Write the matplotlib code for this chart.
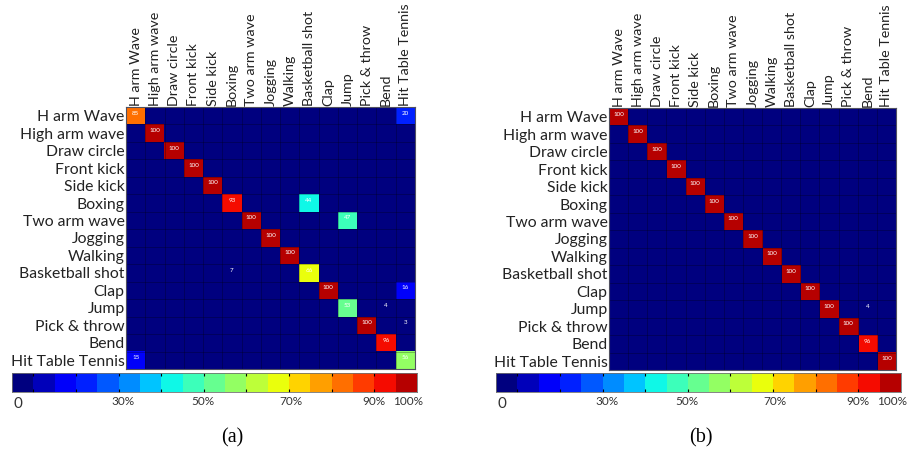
import numpy as np
import matplotlib
matplotlib.use("Agg")
import matplotlib.pyplot as plt
from matplotlib.colors import ListedColormap, BoundaryNorm

classes = ["H arm Wave", "High arm wave", "Draw circle", "Front kick", "Side kick",
           "Boxing", "Two arm wave", "Jogging", "Walking", "Basketball shot",
           "Clap", "Jump", "Pick & throw", "Bend", "Hit Table Tennis"]

# diagonal (correct) percentages and off-diagonal (row, col, value) entries
diag_a = [85, 100, 100, 100, 100, 93, 100, 100, 100, 66, 100, 53, 100, 96, 56]
off_a = [(0, 14, 20), (5, 9, 44), (6, 11, 47), (9, 5, 7),
         (10, 14, 16), (11, 13, 4), (12, 14, 3), (14, 0, 15)]

diag_b = [100, 100, 100, 100, 100, 100, 100, 100, 100, 100, 100, 100, 100, 96, 100]
off_b = [(11, 13, 4)]

cbar_labels = ["0", "30%", "50%", "70%", "90%", "100%"]
cbar_label_pos = [1.5, 27.3, 47.2, 68.9, 89.4, 97.9]

n_levels = 19
cmap = ListedColormap(plt.cm.jet(np.linspace(0, 0.95, n_levels)))
bounds = 5 + (np.arange(n_levels + 1) - 0.5) * 95 / (n_levels - 1)
bounds[0] = 0
norm = BoundaryNorm(bounds, n_levels)

plt.rcParams["font.family"] = ["Lato", "DejaVu Sans"]

W, H = 909, 453
fig = plt.figure(figsize=(W / 100, H / 100), dpi=100)


def px_axes(left, top, right, bottom):
    return fig.add_axes([left / W, 1 - bottom / H, (right - left) / W, (bottom - top) / H])


def build(diag, off):
    m = np.zeros((len(classes), len(classes)))
    for i, v in enumerate(diag):
        m[i, i] = v
    for r, c, v in off:
        m[r, c] = v
    return m


def draw_matrix(ax, m):
    n = len(classes)
    ax.imshow(m, cmap=cmap, norm=norm, aspect="auto", interpolation="nearest")
    for r in range(n):
        for c in range(n):
            if m[r, c] > 0:
                ax.text(c, r - 0.15, f"{m[r, c]:.0f}", ha="center", va="center",
                        fontsize=4.5, color="white")
    ax.set_xticks(range(n))
    ax.set_xticklabels(classes, rotation=90, fontsize=10.3, color="#222222")
    ax.set_yticks(range(n))
    ax.set_yticklabels(classes, fontsize=11.3, color="#222222")
    ax.xaxis.tick_top()
    ax.tick_params(length=0, pad=1)
    ax.set_xticks(np.arange(-0.5, n, 1), minor=True)
    ax.set_yticks(np.arange(-0.5, n, 1), minor=True)
    ax.tick_params(which="minor", length=0)
    ax.grid(which="minor", color="black", alpha=0.3, lw=0.6)
    ax.grid(which="major", visible=False)
    for s in ax.spines.values():
        s.set_color("#505060")
        s.set_linewidth(0.8)


def draw_cbar(ax):
    ax.imshow(np.arange(n_levels)[None, :], cmap=cmap, aspect="auto",
              extent=[0, 100, 0, 1], interpolation="nearest")
    ax.set_xlim(0, 100)
    ax.set_yticks([])
    ax.set_xticks(np.arange(1, n_levels, 2) * 100 / n_levels, minor=True)
    ax.tick_params(which="minor", direction="in", length=2.5, width=0.8,
                   color="black", top=True, bottom=True)
    ax.set_xticks(cbar_label_pos)
    ax.set_xticklabels(cbar_labels, fontsize=8.5, color="#333333")
    ax.tick_params(which="major", length=0, pad=3)
    ax.get_xticklabels()[0].set_fontsize(11)
    ax.get_xticklabels()[0].set_y(-0.03)
    for s in ax.spines.values():
        s.set_color("#707070")
        s.set_linewidth(0.6)


ax_a = px_axes(126, 107, 415, 369)
draw_matrix(ax_a, build(diag_a, off_a))
ax_b = px_axes(609, 108, 896, 370)
draw_matrix(ax_b, build(diag_b, off_b))

cb_a = px_axes(12, 373, 417, 392)
draw_cbar(cb_a)
cb_b = px_axes(496, 373, 901, 392)
draw_cbar(cb_b)

fig.text(232 / W, 1 - 438 / H, "(a)", family="Liberation Serif", fontsize=14.5,
         ha="center", va="center")
fig.text(701 / W, 1 - 438 / H, "(b)", family="Liberation Serif", fontsize=14.5,
         ha="center", va="center")

fig.savefig("out.png", dpi=100)
